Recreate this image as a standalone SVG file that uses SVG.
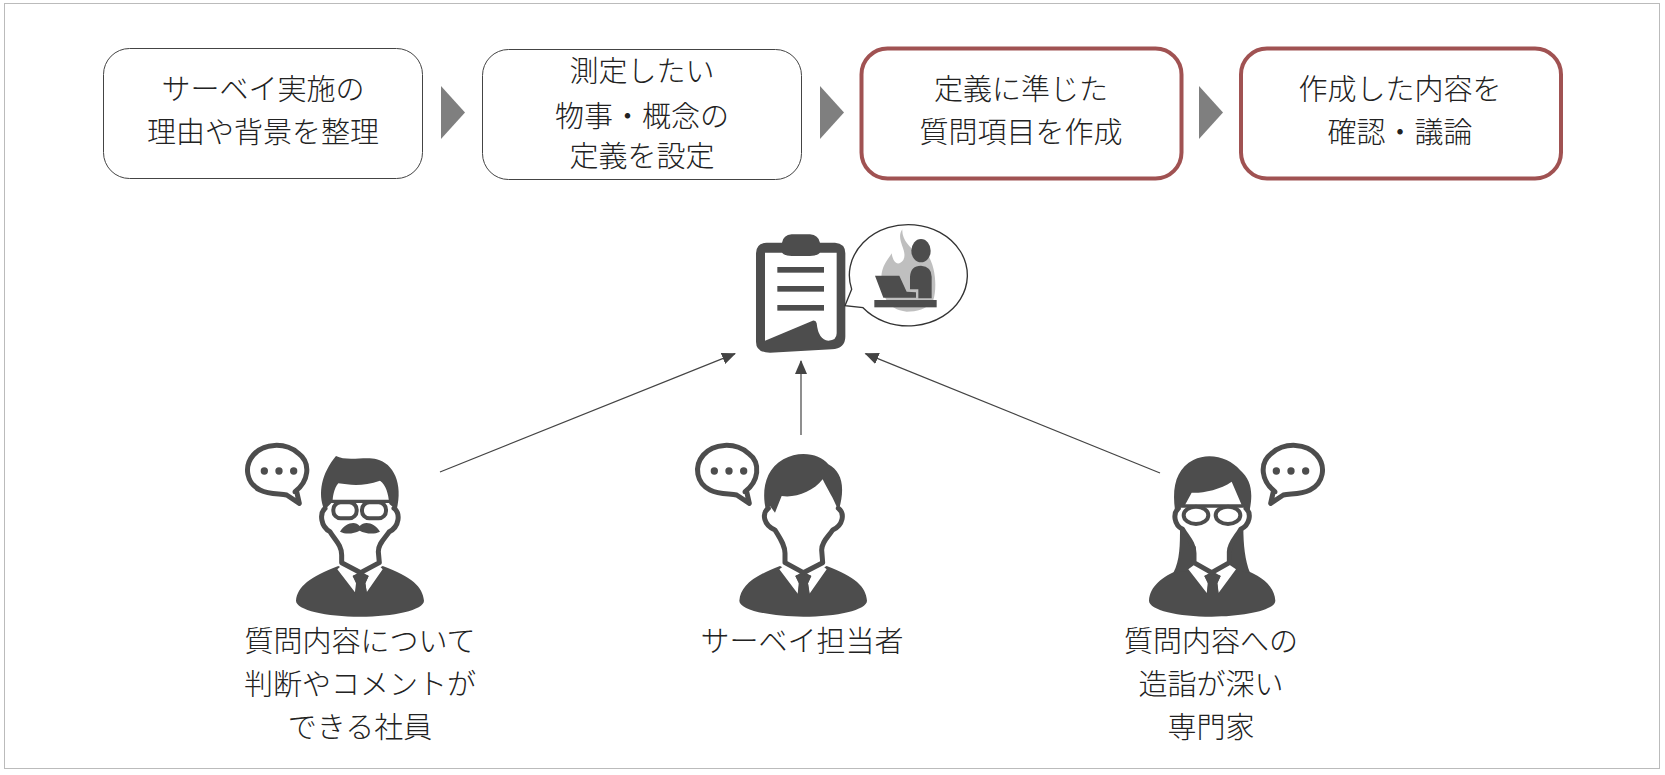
<svg xmlns="http://www.w3.org/2000/svg" width="1665" height="775" viewBox="0 0 1665 775">
<style>
text{font-family:"Noto Sans CJK JP","Noto Sans CJK SC",sans-serif;font-weight:300;font-size:29px;fill:#222;text-anchor:middle}
.plain{fill:#fff;stroke:#444;stroke-width:1}
.hot{fill:#fff;stroke:#a05252;stroke-width:4}
.tri{fill:#7f7f7f}
.d{fill:#4d4d4d}
.w{fill:#fff}
.o{fill:none;stroke:#4d4d4d;stroke-width:15;stroke-linejoin:round;stroke-linecap:round}
.g{fill:#fff;stroke:#4d4d4d;stroke-width:12}
.c{stroke:#444;stroke-width:1.2;fill:none;marker-end:url(#a)}
</style>
<defs>
<marker id="a" viewBox="0 0 14 12" refX="13" refY="6" markerWidth="14" markerHeight="12" markerUnits="userSpaceOnUse" orient="auto"><path d="M0 0L14 6L0 12Z" fill="#444"/></marker>
<g id="say"><path class="o" d="M195,185C235,155 245,100 205,70C165,35 100,40 70,75C40,110 50,160 90,180C120,195 150,190 170,195L208,220L200,185Z" style="fill:#fff"/><circle class="d" cx="103" cy="123" r="11"/><circle class="d" cx="147" cy="123" r="11"/><circle class="d" cx="191" cy="123" r="11"/></g>
</defs>
<rect width="1665" height="775" fill="#fff"/>
<rect x="4.500" y="3.500" width="1655" height="765" fill="#fff" stroke="#bbb" stroke-width="1"/>

<g id="step1"><rect class="plain" x="103.500" y="48.500" width="319" height="130" rx="26"/><text x="263" y="100">サーベイ実施の</text><text x="263" y="143">理由や背景を整理</text></g>
<g id="step2"><rect class="plain" x="482.500" y="49.500" width="319" height="130" rx="26"/><text x="642" y="82">測定したい</text><text x="642" y="127">物事・概念の</text><text x="642" y="167">定義を設定</text></g>
<g id="step3"><rect class="hot" x="861.500" y="48.500" width="320" height="130" rx="26"/><text x="1021" y="100">定義に準じた</text><text x="1021" y="143">質問項目を作成</text></g>
<g id="step4"><rect class="hot" x="1241" y="48.500" width="320" height="130" rx="26"/><text x="1400" y="100">作成した内容を</text><text x="1400" y="143">確認・議論</text></g>

<g id="chevrons"><path class="tri" d="M441 86L465 112.500L441 139Z"/><path class="tri" d="M820 86L844 112.500L820 139Z"/><path class="tri" d="M1199 86L1223 112.500L1199 139Z"/></g>

<g id="connectors">
<path class="c" d="M440 472L735 353.600"/>
<path class="c" d="M801 435L801 361"/>
<path class="c" d="M1160 473L865.500 353.600"/>
</g>

<g id="clipboard" transform="translate(720 210) scale(.33333)">
<path class="d" d="M108,130Q108,100 140,98L186,98Q190,75 215,73L270,73Q295,75 300,98L345,98Q376,100 376,130L376,380Q376,415 335,418L150,428Q108,428 108,395Z"/>
<path class="w" d="M135,128L186,128Q195,138 215,138L270,138Q290,138 300,128L350,128L350,370Q350,392 325,392Q295,390 290,340Q288,330 278,332L135,392Z"/>
<rect class="d" x="172" y="171" width="140" height="17"/><rect class="d" x="172" y="228" width="140" height="17"/><rect class="d" x="172" y="285" width="140" height="17"/>
<path d="M395,238A177,152 0 1 1 429,293L375,287Z" fill="#fff" stroke="#333" stroke-width="4"/>
<path fill="#bfbfbf" d="M560,305C490,300 480,230 485,190C490,160 510,140 515,130C520,160 535,170 550,150C565,120 525,90 547,58C545,90 570,110 590,130L620,130C650,170 650,240 640,270C620,300 590,305 560,305Z"/>
<ellipse class="d" cx="603" cy="122" rx="29" ry="35"/>
<path class="d" d="M570,238L570,200Q572,167 603,167Q635,170 635,200L635,265L595,265L595,238Z"/>
<path class="d" d="M465,197L538,197L560,245L588,247L588,263L490,263Z"/>
<rect class="d" x="463" y="270" width="187" height="22"/>
</g>

<g id="person-employee" transform="translate(230 430) scale(.33333)">
<use href="#say"/>
<path class="d" d="M198,512C202,470 240,440 325,408L392,445L458,408C545,440 578,470 582,512C582,540 490,560 390,560C290,560 198,540 198,512Z"/>
<path class="w" d="M322,418L336,406L392,432L446,406L458,418L410,487L406,460L416,438L392,424L368,438L378,460L375,487Z"/>
<path class="d" d="M368,438L392,424L416,438L406,460L412,495L375,495L380,460Z"/>
<path class="o" d="M285,235C268,250 272,290 300,305C315,330 335,345 335,375L335,398L392,428L448,398L445,365C445,340 465,325 478,305C508,290 512,250 492,235"/>
<path class="d" d="M283,240C262,190 275,130 318,78C350,95 410,78 440,88C490,100 520,160 500,240L478,222C475,190 468,165 450,152C400,170 360,165 325,160C312,175 308,200 308,215Z"/>
<rect x="310" y="217" width="70" height="48" rx="22" class="g"/>
<rect x="396" y="217" width="72" height="48" rx="22" class="g"/>
<path class="o" d="M302,214H478" style="stroke-width:10"/>
<path class="d" d="M330,305C345,280 375,270 389,288C405,270 435,280 450,305C430,315 405,310 389,302C372,310 350,315 330,305Z"/>
</g>

<g id="person-surveyor" transform="translate(680 430) scale(.33333)">
<use href="#say"/>
<path class="d" d="M178,512C182,470 215,440 300,408L370,445L440,408C525,440 558,470 561,512C561,540 470,560 370,560C270,560 178,540 178,512Z"/>
<path class="w" d="M298,418L316,404L370,432L424,404L440,418L388,492L384,460L394,438L370,424L346,438L356,460L354,492Z"/>
<path class="d" d="M346,438L370,424L394,438L384,460L390,495L352,495L358,460Z"/>
<path class="o" d="M265,235C245,250 250,285 285,300C300,325 315,345 315,370L315,398L370,428L428,398L425,360C425,335 445,320 458,300C490,285 495,250 475,235"/>
<path class="d" d="M258,240C245,190 252,120 310,88C360,60 420,72 445,103C485,125 498,170 475,245C465,210 440,175 428,148C400,185 345,205 305,198L285,248L270,228Z"/>
</g>

<g id="person-expert" transform="translate(1130 430) scale(.33333)">
<use href="#say" transform="translate(630 0) scale(-1 1)"/>
<path class="d" d="M57,512C60,470 95,440 150,418L175,410L245,445L315,410L340,418C400,440 433,470 436,512C436,540 345,560 245,560C145,560 57,540 57,512Z"/>
<path class="d" d="M150,290L197,350L197,420L130,428C150,390 150,345 150,290Z"/>
<path class="d" d="M340,290L295,350L295,420L360,428C345,390 340,345 340,290Z"/>
<path class="w" d="M175,418L193,404L245,432L298,404L318,418L265,490L262,460L272,438L247,424L223,438L233,460L231,490Z"/>
<path class="d" d="M223,438L247,424L272,438L262,460L267,495L229,495L235,460Z"/>
<path class="o" d="M145,235C128,250 132,285 158,298C170,320 192,340 192,370L192,398L245,428L298,398L298,365C298,340 320,320 332,298C360,285 365,250 348,235"/>
<path class="d" d="M135,240C125,170 140,115 190,90C240,65 300,85 330,120C365,150 370,190 358,245L335,225L305,155C270,180 215,190 185,188L165,225Z"/>
<ellipse cx="198" cy="256" rx="37" ry="26" class="g"/>
<ellipse cx="294" cy="256" rx="37" ry="26" class="g"/>
<path class="o" d="M150,228H340" style="stroke-width:10"/>
</g>

<g id="label-employee"><text x="360" y="652">質問内容について</text><text x="360" y="695">判断やコメントが</text><text x="360" y="738">できる社員</text></g>
<g id="label-surveyor"><text x="802" y="652">サーベイ担当者</text></g>
<g id="label-expert"><text x="1211" y="652">質問内容への</text><text x="1211" y="695">造詣が深い</text><text x="1211" y="738">専門家</text></g>
</svg>
